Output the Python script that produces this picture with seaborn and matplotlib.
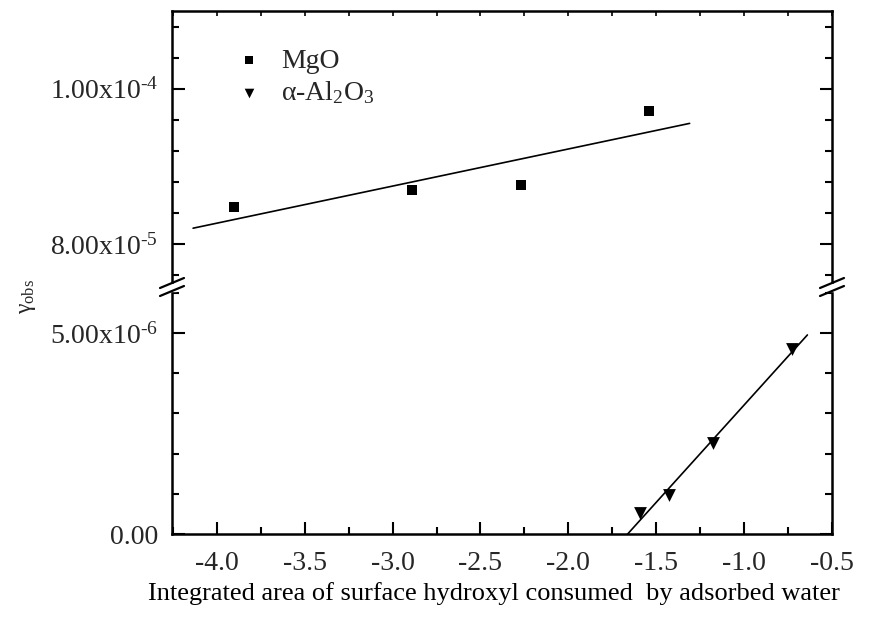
import numpy as np
import pandas as pd
import seaborn as sns
import matplotlib
matplotlib.use("Agg")
import matplotlib.pyplot as plt
from matplotlib.ticker import FixedLocator, MultipleLocator, FixedFormatter
from matplotlib.lines import Line2D
from matplotlib.patches import Rectangle

# ---------------- data ----------------
mgo_x = [-3.90, -2.89, -2.27, -1.54]
mgo_y = [8.48e-5, 8.70e-5, 8.76e-5, 9.72e-5]
al_x = [-1.59, -1.43, -1.175, -0.73]
al_y = [0.53e-6, 0.97e-6, 2.26e-6, 4.59e-6]
mgo_fit_range = [-4.135, -1.31]
al_fit_range = [-1.665, -0.64]

series_names = ["MgO", r"α-Al$_\mathregular{2}$O$_\mathregular{3}$"]
x_ticks = [-4.0, -3.5, -3.0, -2.5, -2.0, -1.5, -1.0, -0.5]
x_tick_labels = ["-4.0", "-3.5", "-3.0", "-2.5", "-2.0", "-1.5", "-1.0", "-0.5"]
upper_ticks = [8.0e-5, 1.0e-4]
upper_tick_labels = ["8.00x10$^\\mathregular{\u20105}$", "1.00x10$^\\mathregular{\u20104}$"]
lower_ticks = [0.0, 5.0e-6]
lower_tick_labels = ["0.00", "5.00x10$^\\mathregular{\u20106}$"]
x_label = "Integrated area of surface hydroxyl consumed  by adsorbed water"
y_label = r"γ$_\mathregular{obs}$"

mgo = pd.DataFrame({"x": mgo_x, "y": mgo_y})
al = pd.DataFrame({"x": al_x, "y": al_y})

# ---------------- style ----------------
sns.set_theme(style="ticks")
plt.rcParams["font.family"] = ["Liberation Serif", "DejaVu Serif"]
plt.rcParams["mathtext.fontset"] = "custom"
plt.rcParams["mathtext.rm"] = "Liberation Serif"
plt.rcParams["mathtext.it"] = "Liberation Serif:italic"
plt.rcParams["axes.linewidth"] = 1.8

W, H = 888, 631
fig = plt.figure(figsize=(W / 100, H / 100), dpi=100)
left, right, top, brk, bottom = 172, 832, 11, 287, 534
ax_up = fig.add_axes([left / W, (H - brk) / H, (right - left) / W, (brk - top) / H])
ax_lo = fig.add_axes([left / W, (H - bottom) / H, (right - left) / W, (bottom - brk) / H])

xlim = (-4.255, -0.5)
for ax in (ax_up, ax_lo):
    ax.set_xlim(*xlim)
    ax.set_facecolor("white")
    for s in ax.spines.values():
        s.set_color("black")
        s.set_linewidth(1.8)

ax_up.set_ylim(7.45e-5, 1.1e-4)
ax_lo.set_ylim(0, 6.14e-6)
ax_up.spines["bottom"].set_visible(False)
ax_lo.spines["top"].set_visible(False)

# points
sns.scatterplot(data=mgo, x="x", y="y", marker="s", s=60, color="black",
                edgecolor="black", linewidth=0, ax=ax_up, label=series_names[0], zorder=3)
sns.scatterplot(data=al, x="x", y="y", marker="v", s=85, color="black",
                edgecolor="black", linewidth=0, ax=ax_lo, label=series_names[1], zorder=3)

# linear fits
c1 = np.polyfit(mgo["x"], mgo["y"], 1)
xs1 = np.array(mgo_fit_range)
ax_up.plot(xs1, np.polyval(c1, xs1), color="black", lw=1.2)
c2 = np.polyfit(al["x"], al["y"], 1)
xs2 = np.array(al_fit_range)
ax_lo.plot(xs2, np.polyval(c2, xs2), color="black", lw=1.2)

# ticks
fs = 20
ax_lo.xaxis.set_major_locator(FixedLocator(x_ticks))
ax_lo.xaxis.set_major_formatter(FixedFormatter(x_tick_labels))
ax_lo.xaxis.set_minor_locator(MultipleLocator(0.25))
ax_lo.tick_params(axis="x", which="major", direction="in", length=9, width=1.5,
                  labelsize=fs, pad=12, top=False, bottom=True, color="black")
ax_lo.tick_params(axis="x", which="minor", direction="in", length=5, width=1.5,
                  top=False, bottom=True, color="black")

ax_up.xaxis.set_major_locator(MultipleLocator(0.25))
ax_up.tick_params(axis="x", which="both", direction="in", length=3.5, width=1.2,
                  top=True, bottom=False, labelbottom=False, labeltop=False, color="black")

ax_up.yaxis.set_major_locator(FixedLocator(upper_ticks))
ax_up.yaxis.set_major_formatter(FixedFormatter(upper_tick_labels))
ax_up.yaxis.set_minor_locator(MultipleLocator(4e-6))
ax_lo.yaxis.set_major_locator(FixedLocator(lower_ticks))
ax_lo.yaxis.set_major_formatter(FixedFormatter(lower_tick_labels))
ax_lo.yaxis.set_minor_locator(MultipleLocator(1e-6))
for ax in (ax_up, ax_lo):
    ax.tick_params(axis="y", which="major", direction="in", length=9, width=1.5,
                   labelsize=fs, pad=10, left=True, right=True, color="black")
    ax.tick_params(axis="y", which="minor", direction="in", length=5, width=1.5,
                   left=True, right=True, color="black")
    ax.set_xlabel("")
    ax.set_ylabel("")

ax_lo.set_xlabel(x_label, fontsize=19, labelpad=6, color="black")
ax_lo.xaxis.set_label_coords((494 - left) / (right - left), -0.195)
fig.text(27 / W, 1 - 296 / H, y_label, rotation=90, fontsize=17, ha="center", va="center")

# legend
if ax_lo.get_legend() is not None:
    ax_lo.get_legend().remove()
h1, l1 = ax_up.get_legend_handles_labels()
h2, l2 = ax_lo.get_legend_handles_labels()
ax_up.legend(h1 + h2, l1 + l2, loc="upper left", bbox_to_anchor=(0.066, 0.905),
             frameon=False, fontsize=fs, markerscale=0.75, handletextpad=0.35,
             labelspacing=0.2, borderaxespad=0, handlelength=1.6)

# axis break marks
def brk_mark(xpx):
    ypx = brk
    fig.patches.append(Rectangle(((xpx - 4) / W, 1 - (ypx + 3.5) / H), 8 / W, 7 / H,
                                 transform=fig.transFigure, color="white", zorder=10))
    for off in (-4, 4):
        x0, x1 = xpx - 12, xpx + 12
        y0, y1 = ypx + off + 5, ypx + off - 5
        fig.lines.append(Line2D([x0 / W, x1 / W], [1 - y0 / H, 1 - y1 / H],
                                transform=fig.transFigure, color="black", lw=1.6, zorder=11))

brk_mark(left)
brk_mark(right)

fig.savefig("out.png", dpi=100, facecolor="white")
